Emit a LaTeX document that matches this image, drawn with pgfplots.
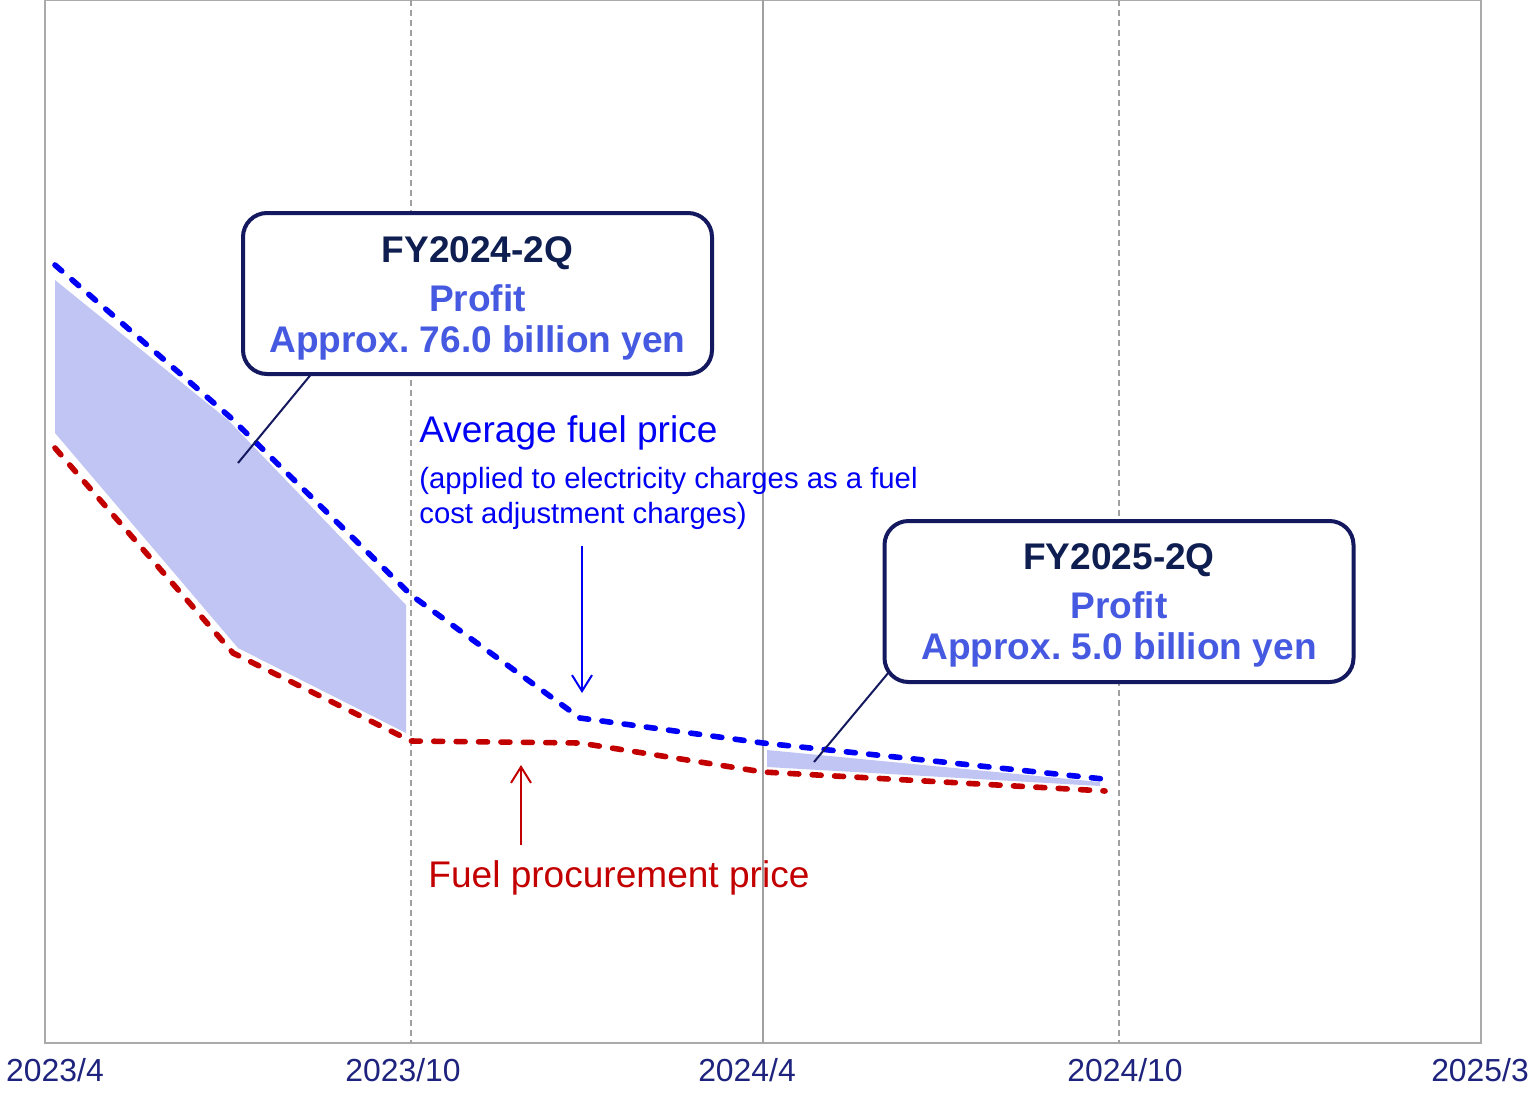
\documentclass[border=0pt]{standalone}
\usepackage{pgfplots}
\pgfplotsset{compat=1.18}
\usepackage{fontspec}
\setmainfont{Liberation Sans}
\usetikzlibrary{arrows.meta}
\frenchspacing
\definecolor{navyt}{RGB}{30,35,125}
\definecolor{navyb}{RGB}{20,25,95}
\definecolor{fytxt}{RGB}{15,30,80}
\definecolor{proftxt}{RGB}{70,90,225}
\definecolor{bline}{RGB}{0,0,245}
\definecolor{rline}{RGB}{195,0,0}
\definecolor{fillc}{RGB}{192,197,244}
\definecolor{axgray}{RGB}{170,170,170}
\definecolor{vgray}{RGB}{160,160,160}
\begin{document}
\begin{tikzpicture}
\begin{axis}[
  scale only axis, width=718bp, height=521.5bp,
  xmin=45, xmax=1481, ymin=0, ymax=1043, y dir=reverse,
  axis line style={draw=axgray, line width=1bp},
  ytick=\empty,
  xtick={55,403,747,1125,1480},
  xticklabels={2023/4,2023/10,2024/4,2024/10,2025/3},
  major tick length=0pt,
  xticklabel style={font=\fontsize{16}{18}\selectfont, text=navyt, yshift=-4bp},
  /pgf/number format/assume math mode=true,
  clip=false,
]
\draw[vgray, line width=0.7bp, dash pattern=on 3bp off 2bp] (axis cs:411,0) -- (axis cs:411,1043);
\draw[vgray, line width=0.7bp] (axis cs:763,0) -- (axis cs:763,1043);
\draw[vgray, line width=0.7bp, dash pattern=on 3bp off 2bp] (axis cs:1119,0) -- (axis cs:1119,1043);

\addplot[draw=none, fill=fillc] coordinates {(55,280) (228,420) (406,605) (406,733) (238,648) (55,433)} -- cycle;
\addplot[draw=none, fill=fillc] coordinates {(767,750) (1100,782) (1100,786) (767,767)} -- cycle;

\addplot[bline, line width=2.8bp, dash pattern=on 4.5bp off 6.7bp, line cap=round] coordinates {(55,265) (230,417) (411,595) (580,718) (763,743) (1113,780)};
\addplot[rline, line width=2.8bp, dash pattern=on 4.5bp off 6.7bp, line cap=round] coordinates {(55,448) (233,653) (411,741) (580,743) (763,772) (1105,791)};

\draw[navyb, line width=1bp] (axis cs:313,372) -- (axis cs:238,463);
\draw[navyb, line width=1bp] (axis cs:889,672) -- (axis cs:814,762);

\node[draw=navyb, line width=2bp, rounded corners=12bp, fill=white, minimum width=234.5bp, minimum height=80.5bp, inner sep=0pt] at (axis cs:477.5,293.5) {};
\node[text=fytxt, font=\fontsize{18.6}{20}\selectfont\bfseries] at (axis cs:477.5,253) {FY2024-2Q};
\node[text=proftxt, font=\fontsize{18.6}{20}\selectfont\bfseries] at (axis cs:477.5,298) {Profit};
\node[text=proftxt, font=\fontsize{18.6}{20}\selectfont\bfseries] at (axis cs:477.5,343) {Approx. 76.0 billion yen};

\node[draw=navyb, line width=2bp, rounded corners=12bp, fill=white, minimum width=234.5bp, minimum height=80.5bp, inner sep=0pt] at (axis cs:1119,601.5) {};
\node[text=fytxt, font=\fontsize{18.6}{20}\selectfont\bfseries] at (axis cs:1119,560) {FY2025-2Q};
\node[text=proftxt, font=\fontsize{18.6}{20}\selectfont\bfseries] at (axis cs:1119,605) {Profit};
\node[text=proftxt, font=\fontsize{18.6}{20}\selectfont\bfseries] at (axis cs:1119,650) {Approx. 5.0 billion yen};

\node[anchor=west, inner sep=0pt, text=bline, font=\fontsize{18.6}{20}\selectfont] at (axis cs:419,433) {Average fuel price};
\node[anchor=west, inner sep=0pt, text=bline, font=\fontsize{14.7}{16}\selectfont] at (axis cs:419,481) {(applied to electricity charges as a fuel};
\node[anchor=west, inner sep=0pt, text=bline, font=\fontsize{14.7}{16}\selectfont] at (axis cs:419,516) {cost adjustment charges)};
\node[anchor=west, inner sep=0pt, text=rline, font=\fontsize{18.6}{20}\selectfont] at (axis cs:428,878) {Fuel procurement price};

\draw[bline, line width=1bp, -{Straight Barb[length=8bp,width=10bp]}] (axis cs:582,546) -- (axis cs:582,693);
\draw[rline, line width=1bp, -{Straight Barb[length=8bp,width=10bp]}] (axis cs:521,845) -- (axis cs:521,765);

\coordinate (bbA) at (axis cs:0,0);
\coordinate (bbB) at (axis cs:1537,1095);
\end{axis}
\pgfresetboundingbox
\path[use as bounding box] (bbA) rectangle (bbB);
\end{tikzpicture}
\end{document}
